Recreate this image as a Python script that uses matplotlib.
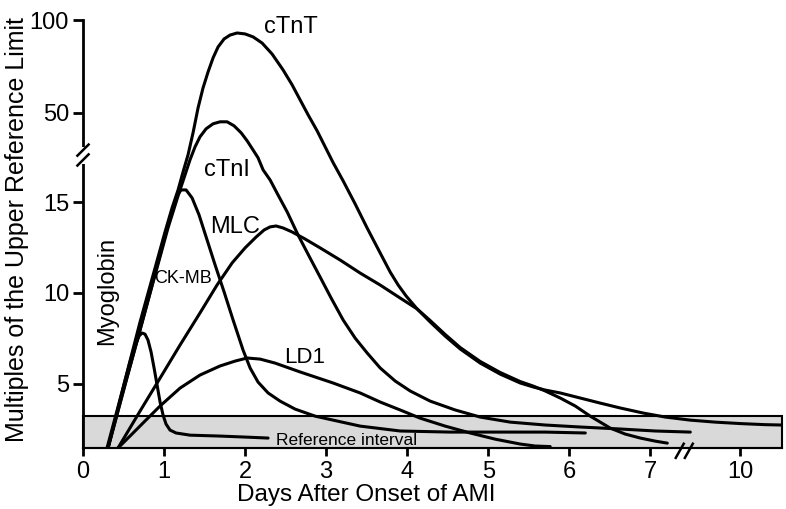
import numpy as np
import matplotlib
matplotlib.use("Agg")
import matplotlib.pyplot as plt
from matplotlib.patches import Rectangle

plt.rcParams['font.family'] = ['Liberation Sans', 'DejaVu Sans']

# days after onset / multiples of the upper reference limit
myo_x = [0.296, 0.395, 0.494, 0.580, 0.642, 0.691, 0.728, 0.765, 0.802, 0.840, 0.877,
         0.914, 0.951, 0.988, 1.025, 1.074, 1.148, 1.321, 1.691, 2.025, 2.284]
myo_y = [1.44, 3.09, 4.75, 6.19, 7.07, 7.62, 7.79, 7.73, 7.40, 6.74, 5.86,
         4.92, 3.98, 3.26, 2.76, 2.43, 2.27, 2.15, 2.10, 2.04, 1.99]

ckmb_x = [0.309, 0.519, 0.704, 0.889, 1.012, 1.099, 1.160, 1.210, 1.272, 1.346, 1.432,
          1.531, 1.630, 1.741, 1.852, 1.975, 2.062, 2.160, 2.284, 2.432, 2.617, 2.864,
          3.086, 3.420, 3.914, 4.531, 5.148, 5.704, 6.198]
ckmb_y = [1.44, 4.97, 7.96, 11.05, 13.15, 14.53, 15.36, 15.69, 15.69, 15.25, 14.31,
          12.93, 11.55, 10.06, 8.51, 6.85, 5.86, 5.08, 4.48, 4.03, 3.59, 3.20,
          2.98, 2.65, 2.38, 2.32, 2.32, 2.32, 2.27]

ctnt_x = [0.309, 0.519, 0.704, 0.889, 1.012, 1.099, 1.173, 1.235, 1.296, 1.358, 1.420,
          1.481, 1.543, 1.605, 1.667, 1.741, 1.815, 1.901, 2.0, 2.099, 2.21, 2.333,
          2.469, 2.580, 2.679, 2.778, 2.889, 2.988, 3.086, 3.210, 3.358, 3.506, 3.667,
          3.790, 3.889, 3.988, 4.123, 4.284, 4.469, 4.654, 4.901, 5.148, 5.395, 5.556,
          5.704, 5.889, 6.136, 6.383, 6.63, 6.914, 7.185, 7.494, 8.73, 10.0, 11.26, 12.1]
ctnt_y = [1.44, 5.19, 8.40, 11.38, 13.37, 14.70, 15.69, 16.69, 24.56, 39.25, 52.7,
          63.4, 72.0, 79.6, 85.5, 89.8, 91.9, 93.0, 92.5, 90.9, 87.6, 81.7,
          73.1, 65.1, 57.0, 48.9, 40.3, 31.7, 17.2, 16.19, 14.92, 13.59, 12.21,
          11.16, 10.44, 9.83, 9.12, 8.40, 7.62, 6.91, 6.13, 5.52, 5.03, 4.81,
          4.64, 4.48, 4.20, 3.92, 3.65, 3.37, 3.15, 2.98, 2.87, 2.79, 2.73, 2.71]

ctni_x = [0.309, 0.519, 0.704, 0.889, 1.049, 1.173, 1.259, 1.321, 1.383, 1.444, 1.519,
          1.605, 1.691, 1.778, 1.864, 1.951, 2.025, 2.099, 2.160, 2.222, 2.309, 2.407,
          2.519, 2.654, 2.802, 2.926, 3.062, 3.210, 3.358, 3.506, 3.667, 3.852, 4.037,
          4.284, 4.593, 4.901, 5.272, 5.704, 6.136, 6.630, 7.062, 7.494]
ctni_y = [1.44, 4.92, 7.96, 10.99, 13.59, 15.36, 16.52, 19.96, 31.72, 37.10, 41.40,
          44.09, 45.16, 45.16, 43.01, 39.25, 34.95, 29.16, 21.8, 16.8, 16.24, 15.41,
          14.48, 13.20, 11.93, 10.88, 9.72, 8.51, 7.51, 6.69, 5.86, 5.14, 4.59,
          4.03, 3.54, 3.15, 2.87, 2.71, 2.60, 2.49, 2.38, 2.32]

mlc_x = [0.432, 0.704, 0.951, 1.198, 1.444, 1.654, 1.840, 2.0, 2.136, 2.235, 2.309,
         2.383, 2.469, 2.580, 2.741, 2.926, 3.173, 3.42, 3.667, 3.914, 4.123, 4.284,
         4.469, 4.654, 4.901, 5.148, 5.395, 5.556, 5.704, 5.889, 6.074, 6.259, 6.506,
         6.691, 6.877, 7.062, 7.210]
mlc_y = [1.44, 3.48, 5.30, 7.13, 8.90, 10.44, 11.66, 12.49, 13.09, 13.48, 13.65,
         13.70, 13.59, 13.37, 12.98, 12.49, 11.82, 11.10, 10.44, 9.72, 9.12, 8.48,
         7.71, 6.99, 6.22, 5.61, 5.11, 4.86, 4.59, 4.20, 3.76, 3.20, 2.54,
         2.21, 1.99, 1.82, 1.71]

ld1_x = [0.432, 0.580, 0.765, 0.951, 1.198, 1.444, 1.691, 1.877, 2.025, 2.185, 2.370,
         2.679, 3.086, 3.420, 3.667, 3.914, 4.160, 4.469, 4.778, 5.086, 5.395, 5.580, 5.765]
ld1_y = [1.44, 2.10, 2.93, 3.76, 4.75, 5.47, 5.97, 6.24, 6.41, 6.35, 6.13,
         5.64, 5.03, 4.48, 3.98, 3.54, 3.09, 2.65, 2.27, 1.93, 1.66, 1.55, 1.52]

ref_low, ref_high = 1.44, 3.2
yticks = [5, 10, 15, 50, 100]
xticks = [0, 1, 2, 3, 4, 5, 6, 7, 10]


# broken y axis: linear to 17.2, squeezed gap, compressed upper part
def yfwd(y):
    return np.interp(y, [-1000, 17.2, 31, 1000], [-1000, 17.2, 18.0, 18.0 + 969 * 0.1025])


def yinv(t):
    return np.interp(t, [-1000, 17.2, 18.0, 18.0 + 969 * 0.1025], [-1000, 17.2, 31, 1000])


# broken x axis after day 7.5
def xfwd(x):
    return np.interp(x, [-100, 7.5, 100], [-100, 7.5, 7.5 + 92.5 * 0.244])


def xinv(t):
    return np.interp(t, [-100, 7.5, 7.5 + 92.5 * 0.244], [-100, 7.5, 100])


fig = plt.figure(figsize=(7.86, 5.09), dpi=100)
ax = fig.add_axes([0.1056, 0.1198, 0.889, 0.8409])
ax.set_yscale('function', functions=(yfwd, yinv))
ax.set_xscale('function', functions=(xfwd, xinv))
ax.set_ylim(ref_low, 100)
ax.set_xlim(0, 12.1)

ax.axhspan(ref_low, ref_high, facecolor='#d9d9d9', edgecolor='black', lw=1.5,
           zorder=0, clip_on=False)

for xs, ys in [(myo_x, myo_y), (ckmb_x, ckmb_y), (ctnt_x, ctnt_y),
               (ctni_x, ctni_y), (mlc_x, mlc_y), (ld1_x, ld1_y)]:
    ax.plot(xs, ys, color='black', lw=2.2, solid_joinstyle='round',
            solid_capstyle='round', zorder=3)

ax.set_yticks(yticks)
ax.set_yticklabels([str(v) for v in yticks])
ax.set_xticks(xticks)
ax.set_xticklabels([str(v) for v in xticks])
ax.minorticks_off()
ax.tick_params(axis='y', direction='out', length=7, width=2, labelsize=17, pad=3)
ax.tick_params(axis='x', direction='out', length=6, width=2, labelsize=17, pad=3)

for s in ['top', 'right']:
    ax.spines[s].set_visible(False)
ax.spines['left'].set_linewidth(2)
ax.spines['bottom'].set_linewidth(1.5)

ax.set_ylabel('Multiples of the Upper Reference Limit', fontsize=18)
ax.yaxis.set_label_coords(-0.077, 0.51)
ax.set_xlabel('Days After Onset of AMI', fontsize=17.5)
ax.xaxis.set_label_coords(0.406, -0.084)

# axis break marks
ax.add_patch(Rectangle((-0.01, 0.664), 0.02, 0.039, transform=ax.transAxes,
                       facecolor='white', edgecolor='none', clip_on=False, zorder=5))
for yc in [0.696, 0.673]:
    ax.plot([-0.008, 0.008], [yc - 0.013, yc + 0.013], transform=ax.transAxes,
            color='black', lw=1.8, clip_on=False, zorder=6)
for xc in [0.854, 0.867]:
    ax.plot([xc - 0.0057, xc + 0.0057], [-0.023, 0.010], transform=ax.transAxes,
            color='black', lw=1.8, clip_on=False, zorder=6)

# curve labels
ax.text(2.56, 96.2, 'cTnT', fontsize=17, ha='center', va='center')
ax.text(1.77, 16.8, 'cTnI', fontsize=17, ha='center', va='center')
ax.text(1.88, 13.65, 'MLC', fontsize=17, ha='center', va='center')
ax.text(1.23, 10.8, 'CK-MB', fontsize=13, ha='center', va='center')
ax.text(0.30, 10.1, 'Myoglobin', fontsize=17, ha='center', va='center', rotation=90)
ax.text(2.74, 6.46, 'LD1', fontsize=16, ha='center', va='center')
ax.text(3.25, 1.88, 'Reference interval', fontsize=12.5, ha='center', va='center')

fig.savefig('out.png', dpi=100)
